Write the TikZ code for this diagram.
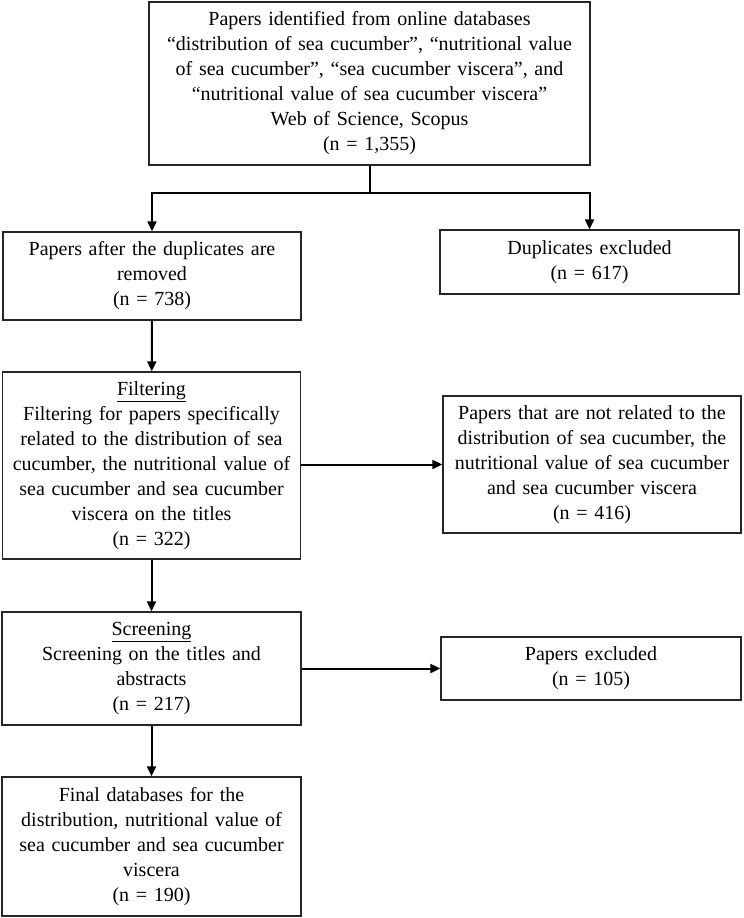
\documentclass[tikz,border=0pt]{standalone}
\usepackage{fontspec}
\setmainfont{Liberation Serif}
\usepackage{tikz}
\usetikzlibrary{arrows.meta}
\usetikzlibrary{positioning}
\tikzstyle{etape}=[rectangle,draw=black!85,line width=1.3pt,fill=white,inner sep=0pt,align=center,font=\fontsize{20}{25}\selectfont]
\tikzstyle{suite}=[-{Triangle[length=10pt,width=9pt]},line width=2pt]

\begin{document}
\begin{tikzpicture}[x=1pt,y=1pt]
\useasboundingbox (0,0) rectangle (744,-918);
\node[etape,text width=441pt,minimum height=163pt] (ident) at (369.5,-83.5) {Papers identified from online databases\\“distribution of sea cucumber”, “nutritional value\\of sea cucumber”, “sea cucumber viscera”, and\\“nutritional value of sea cucumber viscera”\\Web of Science, Scopus\\(n = 1,355)};
\node[etape,text width=298pt,minimum height=88pt] (retire) at (152,-276) {Papers after the duplicates are\\removed\\(n = 738)};
\node[etape,text width=299pt,minimum height=64pt] (doublon) at (589.5,-262) {Duplicates excluded\\(n = 617)};
\node[etape,text width=298pt,minimum height=187pt] (filtre) at (151.5,-465.5) {\underline{Filtering}\\Filtering for papers specifically\\related to the distribution of sea\\cucumber, the nutritional value of\\sea cucumber and sea cucumber\\viscera on the titles\\(n = 322)};
\node[etape,text width=298pt,minimum height=137pt] (horsujet) at (592,-464.5) {Papers that are not related to the\\distribution of sea cucumber, the\\nutritional value of sea cucumber\\and sea cucumber viscera\\(n = 416)};
\node[etape,text width=299pt,minimum height=113pt] (tri) at (151.5,-668.5) {\underline{Screening}\\Screening on the titles and\\abstracts\\(n = 217)};
\node[etape,text width=300pt,minimum height=63pt] (exclu) at (591,-668.5) {Papers excluded\\(n = 105)};
\node[etape,text width=299pt,minimum height=139pt] (final) at (151.5,-846.5) {Final databases for the\\distribution, nutritional value of\\sea cucumber and sea cucumber\\viscera\\(n = 190)};
\coordinate (branche) at (369.5,-193);
%Placementdesflèches
\draw[line width=2pt] (ident) -- (branche);
\draw[suite] (branche) -| (retire);
\draw[suite] (branche) -| (doublon);
\draw[suite] (retire) -- (filtre);
\draw[suite] (filtre.east |- horsujet.west) -- (horsujet.west);
\draw[suite] (filtre) -- (tri);
\draw[suite] (tri) -- (exclu);
\draw[suite] (tri) -- (final);
\end{tikzpicture}
\end{document}
